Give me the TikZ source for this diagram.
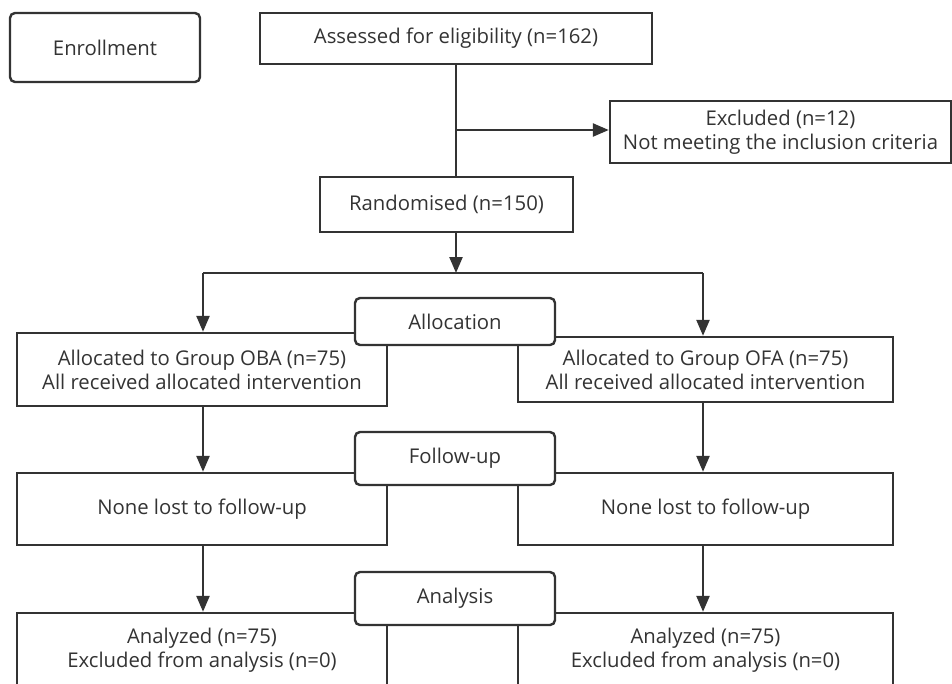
\documentclass[tikz,border=0pt]{standalone}
\usepackage{fontspec}
\setmainfont{Open Sans}
\usetikzlibrary{arrows.meta}
\definecolor{ink}{HTML}{333333}
\begin{document}
\begin{tikzpicture}[x=1pt,y=-1pt,
  every node/.style={font=\fontsize{20.3}{24}\selectfont, text=ink, align=center, inner sep=0pt},
  box/.style={draw=ink, line width=2.4pt, fill=white, rectangle},
  rbox/.style={box, rounded corners=5pt},
  conn/.style={draw=ink, line width=2.4pt},
  arr/.style={conn, -{Triangle[length=16pt,width=13pt]}}]
\clip (0,0) rectangle (952,683);
\fill[white] (0,0) rectangle (952,683);
% side boxes
\node[rbox, minimum width=190pt, minimum height=69pt] (enr) at (105,47.5) {Enrollment};
\node[box, minimum width=392pt, minimum height=51pt] (assess) at (456,38.5) {Assessed for eligibility (n=162)};
\node[box, minimum width=341pt, minimum height=62pt] (excl) at (780.5,132) {Excluded (n=12)\\Not meeting the inclusion criteria};
\node[box, minimum width=253pt, minimum height=55pt] (rand) at (446.5,204.5) {Randomised (n=150)};
\node[box, minimum width=370pt, minimum height=73pt] (oba) at (202,369.5) {Allocated to Group OBA (n=75)\\All received allocated intervention};
\node[box, minimum width=375pt, minimum height=65pt] (ofa) at (705.5,369.5) {Allocated to Group OFA (n=75)\\All received allocated intervention};
\node[box, minimum width=370pt, minimum height=72pt] (fl) at (202,509) {None lost to follow-up};
\node[box, minimum width=375pt, minimum height=72pt] (fr) at (705.5,509) {None lost to follow-up};
\node[box, minimum width=370pt, minimum height=74pt] (al) at (202,650) {Analyzed (n=75)\\Excluded from analysis (n=0)};
\node[box, minimum width=375pt, minimum height=74pt] (ar) at (705.5,650) {Analyzed (n=75)\\Excluded from analysis (n=0)};
% stage labels
\node[rbox, minimum width=200pt, minimum height=47pt] (alloc) at (455,321.5) {Allocation};
\node[rbox, minimum width=200pt, minimum height=53pt] (fu) at (455,458.5) {Follow-up};
\node[rbox, minimum width=200pt, minimum height=53pt] (ana) at (455,598.5) {Analysis};
% connectors
\coordinate (br) at (456,130);
\coordinate (split) at (456,273);
\coordinate (splitL) at (203,273);
\coordinate (splitR) at (703,273);
\path[conn] (assess.south -| br) -- (br |- rand.north);
\path[arr] (br) -- (excl.west |- br);
\path[arr] (rand.south -| split) -- (split);
\path[conn] (splitL) -- (splitR);
\path[arr] (splitL) -- (splitL |- oba.north);
\path[arr] (splitR) -- (splitR |- ofa.north);
\path[arr] (oba.south -| splitL) -- (splitL |- fl.north);
\path[arr] (ofa.south -| splitR) -- (splitR |- fr.north);
\path[arr] (fl.south -| splitL) -- (splitL |- al.north);
\path[arr] (fr.south -| splitR) -- (splitR |- ar.north);
\end{tikzpicture}
\end{document}
